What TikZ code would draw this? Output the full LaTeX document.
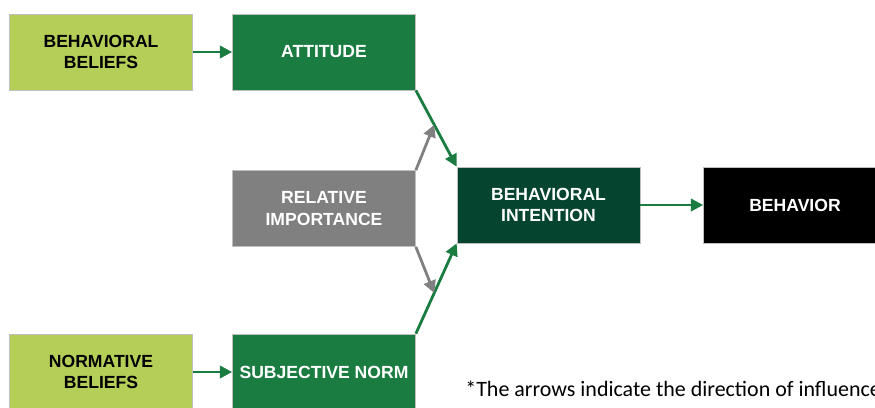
\documentclass[tikz,border=0pt]{standalone}
\usepackage{fontspec}
\setmainfont{Liberation Sans}
\newfontfamily\notefont{Carlito}
\usetikzlibrary{arrows.meta,positioning,calc}
\definecolor{beliefgreen}{HTML}{B4CE57}
\definecolor{factorgreen}{HTML}{1B7C41}
\definecolor{intentgreen}{HTML}{05452F}
\definecolor{weightgray}{HTML}{808080}
\tikzset{
    %Define standard arrow tip
    >={Triangle[length=7pt,width=7pt]},
    %Define style for boxes
    box/.style={
           rectangle,
           draw=black!25, line width=0.4pt,
           minimum width=3.66cm,
           minimum height=1.52cm,
           font=\bfseries\fontsize{10}{12}\selectfont,
           align=center,
           text=white},
    belief/.style={box, fill=beliefgreen, text=black},
    factor/.style={box, fill=factorgreen},
    % Define arrow style
    pil/.style={
           ->,
           line width=1.6pt,
           draw=factorgreen},
    wpil/.style={pil, draw=weightgray}
}
\begin{document}
\begin{tikzpicture}[x=0.02cm,y=-0.02cm]
\useasboundingbox (0,0) rectangle (875,407);
\clip (0,0) rectangle (875,407);
\node[belief](bb) at (101,52){BEHAVIORAL\\BELIEFS};
\node[factor](att) at (324,52){ATTITUDE};
\node[box, fill=weightgray](ri) at (324,208.5){RELATIVE\\IMPORTANCE};
\node[box, fill=intentgreen](bi) at (548.5,205){BEHAVIORAL\\INTENTION};
\node[box, fill=black](beh) at (795,205){BEHAVIOR};
\node[belief](nb) at (101,372){NORMATIVE\\BELIEFS};
\node[factor](sn) at (324,372){SUBJECTIVE NORM};
\node[anchor=base west, inner sep=0pt, font=\notefont\fontsize{12.5}{14}\selectfont](note) at (465,396){*The arrows indicate the direction of influence};
\coordinate (attmid) at ($(att.south east)!0.45!(bi.north west)$);
\coordinate (snmid) at ($(sn.north east)!0.45!(bi.south west)$);
\path
	(bb) edge[pil] (att)
	(att.south east) edge[pil] (bi.north west)
	(sn.north east) edge[pil] (bi.south west)
	(bi) edge[pil] (beh)
	(nb) edge[pil] (sn)
	(ri.north east) edge[wpil] (attmid)
	(ri.south east) edge[wpil] (snmid);
\end{tikzpicture}
\end{document}
